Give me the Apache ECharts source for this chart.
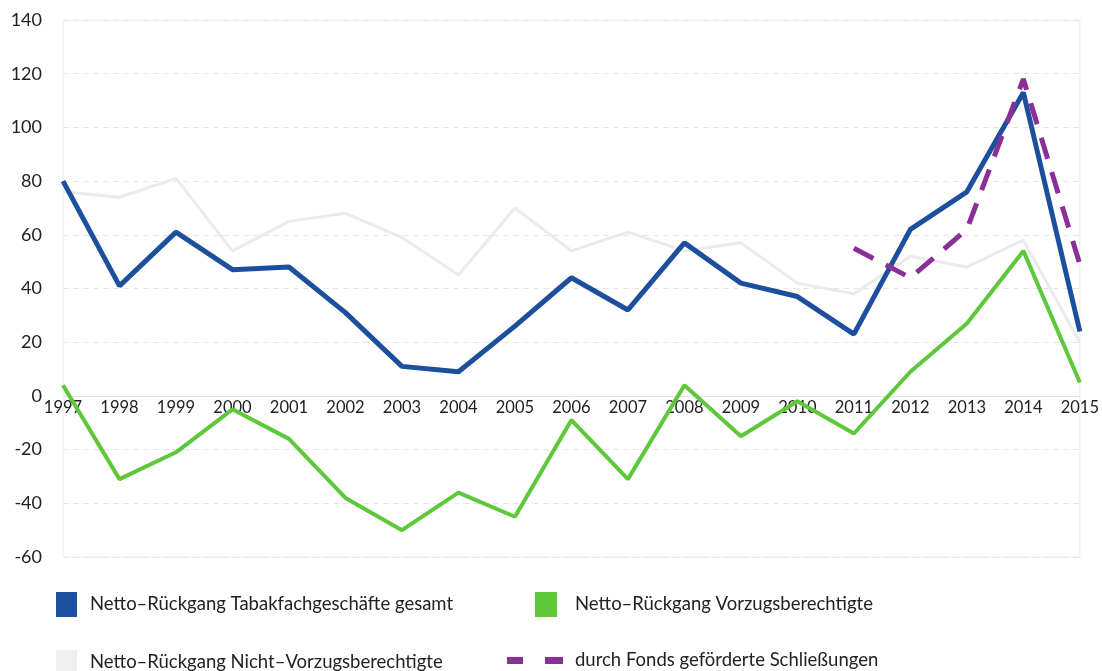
<!DOCTYPE html>
<html>
<head>
<meta charset="utf-8">
<script src="https://cdn.jsdelivr.net/npm/echarts@6/dist/echarts.min.js"></script>
<style>
  html, body { margin: 0; padding: 0; background: #fff; }
  #chart { width: 1102px; height: 671px; }
</style>
</head>
<body>
<div id="chart"></div>
<script>
// Jahre
var years = ['1997', '1998', '1999', '2000', '2001', '2002', '2003', '2004', '2005', '2006',
  '2007', '2008', '2009', '2010', '2011', '2012', '2013', '2014', '2015'];

// Netto-Rückgang Tabakfachgeschäfte gesamt
var gesamt = [80, 41, 61, 47, 48, 31, 11, 9, 26, 44, 32, 57, 42, 37, 23, 62, 76, 113, 24];
// Netto-Rückgang Vorzugsberechtigte
var vorzug = [4, -31, -21, -5, -16, -38, -50, -36, -45, -9, -31, 4, -15, -2, -14, 9, 27, 54, 5];
// Netto-Rückgang Nicht-Vorzugsberechtigte
var nichtVorzug = [76, 74, 81, 54, 65, 68, 59, 45, 70, 54, 61, 54, 57, 42, 38, 52, 48, 58, 20];
// durch Fonds geförderte Schließungen (erst ab 2011)
var fonds = [null, null, null, null, null, null, null, null, null, null,
  null, null, null, null, 55, 44, 62, 118, 49];

var names = [
  'Netto–Rückgang Tabakfachgeschäfte gesamt',
  'Netto–Rückgang Vorzugsberechtigte',
  'Netto–Rückgang Nicht–Vorzugsberechtigte',
  'durch Fonds geförderte Schließungen'
];

var font = 'Lato, "Open Sans", sans-serif';
var chart = echarts.init(document.getElementById('chart'));

// eine Legende pro Eintrag, damit die Spalten wie im Original stehen
function legendItem(name, left, top, icon, w, h, gap) {
  return {
    data: [name],
    left: left,
    top: top,
    padding: 0,
    icon: icon,
    itemWidth: w,
    itemHeight: h,
    selectedMode: false,
    textStyle: { fontFamily: font, fontSize: 18.5, color: '#222', padding: [0, 0, 0, gap] }
  };
}

var option = {
  backgroundColor: '#fff',
  animation: false,
  grid: {
    left: 63, right: 22, top: 20, bottom: 114,
    show: true, borderColor: '#ececec', borderWidth: 1
  },
  legend: [
    legendItem(names[0], 56, 592, 'rect', 21, 25, 8),
    legendItem(names[1], 535, 592, 'rect', 22, 25, 13),
    legendItem(names[2], 56, 650, 'rect', 21, 24, 8),
    legendItem(names[3], 507, 651, 'path://M0,0h16v7h-16z M38,0h18v7h-18z', 56, 7, 7)
  ],
  xAxis: {
    type: 'category',
    data: years,
    boundaryGap: false,
    offset: -161,
    axisLine: { onZero: false, lineStyle: { color: '#e4e4e4', width: 1 } },
    axisTick: { show: false },
    axisLabel: { fontFamily: font, fontSize: 16.5, color: '#222', margin: 3 },
    splitLine: { show: false }
  },
  yAxis: {
    type: 'value',
    min: -60, max: 140, interval: 20,
    axisLine: { show: false },
    axisTick: { show: false },
    axisLabel: { fontFamily: font, fontSize: 18, color: '#222', margin: 21 },
    splitLine: { lineStyle: { color: '#e6e6e6', type: [6, 4], width: 1 } }
  },
  series: [
    {
      name: names[2], type: 'line', data: nichtVorzug, symbol: 'none',
      lineStyle: { color: '#ebebeb', width: 3 }, itemStyle: { color: '#efefef' }, z: 1
    },
    {
      name: names[0], type: 'line', data: gesamt, symbol: 'none',
      lineStyle: { color: '#1c4f9c', width: 5 }, itemStyle: { color: '#1c4f9c' }, z: 3
    },
    {
      name: names[1], type: 'line', data: vorzug, symbol: 'none',
      lineStyle: { color: '#5ec83a', width: 4 }, itemStyle: { color: '#5ec83a' }, z: 2
    },
    {
      name: names[3], type: 'line', data: fonds, symbol: 'none',
      lineStyle: { color: '#8a2f98', width: 5, type: [22, 14] }, itemStyle: { color: '#8a2f98' }, z: 4
    }
  ]
};

chart.setOption(option);
</script>
</body>
</html>
